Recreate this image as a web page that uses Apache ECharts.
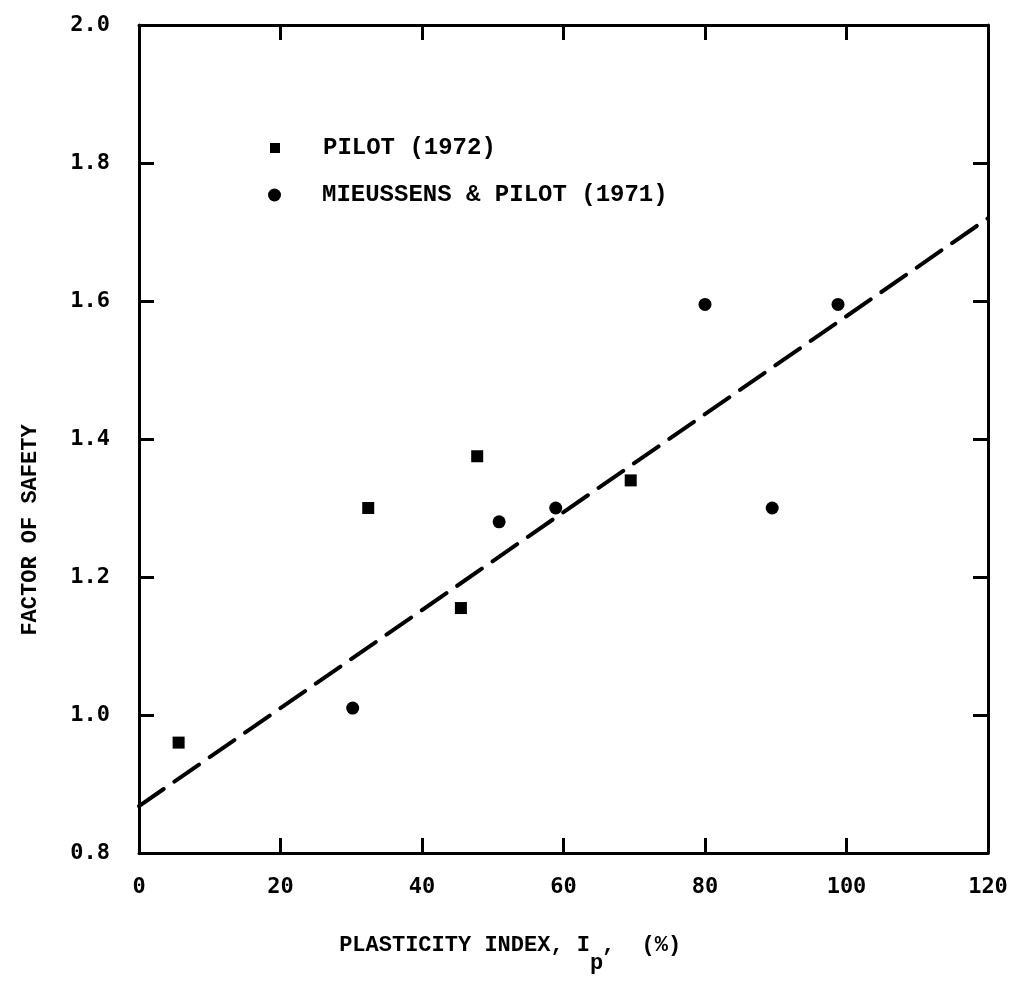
<!DOCTYPE html>
<html><head><meta charset="utf-8">
<script src="https://cdn.jsdelivr.net/npm/echarts@6/dist/echarts.min.js"></script>
<style>html,body{margin:0;padding:0;background:#fff}#c{width:1013px;height:994px}</style>
</head><body><div id="c"></div>
<script>
// PILOT (1972) - squares
const pilotX = [5.6, 32.4, 45.5, 47.8, 69.5];
const pilotY = [0.96, 1.30, 1.155, 1.375, 1.34];
// MIEUSSENS & PILOT (1971) - circles
const mpX = [30.2, 50.9, 58.9, 80.0, 89.5, 98.8];
const mpY = [1.01, 1.28, 1.30, 1.595, 1.30, 1.595];
// fitted dashed line
const fitX = [0, 120];
const fitY = [0.868, 1.72];
// axes
const xMin = 0, xMax = 120, xStep = 20;
const yMin = 0.8, yMax = 2.0, yStep = 0.2;
const seriesNames = ['PILOT (1972)', 'MIEUSSENS & PILOT (1971)'];
const xTitle = ['PLASTICITY INDEX, I', 'p', ',  (%)'];
const yTitle = 'FACTOR OF SAFETY';

const zip = (a, b) => a.map((v, i) => [v, b[i]]);
const labelFont = 'DejaVu Sans Mono';
const typeFont = 'Liberation Mono';

const axisCommon = {
  axisLine: { show: true, onZero: false, lineStyle: { color: '#000', width: 3 } },
  axisTick: { show: true, inside: true, length: 15, lineStyle: { color: '#000', width: 3 } },
  splitLine: { show: false }
};
const titleFont = 'bold 22px "Liberation Mono"';

const chart = echarts.init(document.getElementById('c'), null, { renderer: 'canvas' });
chart.setOption({
  backgroundColor: '#fff',
  animation: false,
  grid: { left: 139, right: 25, top: 25, bottom: 141 },
  xAxis: [
    Object.assign({ type: 'value', position: 'bottom', min: xMin, max: xMax, interval: xStep,
      axisLabel: { margin: 23, color: '#000', fontFamily: labelFont, fontSize: 22, fontWeight: 'bold' } }, axisCommon),
    Object.assign({ type: 'value', position: 'top', min: xMin, max: xMax, interval: xStep,
      axisLabel: { show: false } }, axisCommon)
  ],
  yAxis: [
    Object.assign({ type: 'value', position: 'left', min: yMin, max: yMax, interval: yStep,
      axisLabel: { margin: 29, color: '#000', fontFamily: labelFont, fontSize: 22, fontWeight: 'bold',
        formatter: v => v.toFixed(1) } }, axisCommon),
    Object.assign({ type: 'value', position: 'right', min: yMin, max: yMax, interval: yStep,
      axisLabel: { show: false } }, axisCommon)
  ],
  legend: [
    { data: [seriesNames[0]], left: 265, top: 131, itemWidth: 10, itemHeight: 10,
      textStyle: { color: '#000', fontFamily: typeFont, fontSize: 24, fontWeight: 'bold', padding: [0, 0, 0, 38] } },
    { data: [seriesNames[1]], left: 263, top: 178, itemWidth: 13, itemHeight: 13,
      textStyle: { color: '#000', fontFamily: typeFont, fontSize: 24, fontWeight: 'bold', padding: [0, 0, 0, 36] } }
  ],
  series: [
    { name: 'fit', type: 'line', data: zip(fitX, fitY), symbol: 'none', silent: true,
      lineStyle: { color: '#000', width: 4, type: [30, 13], cap: 'round' } },
    { name: seriesNames[0], type: 'scatter', data: zip(pilotX, pilotY), symbol: 'rect', symbolSize: 12,
      itemStyle: { color: '#000', opacity: 1 } },
    { name: seriesNames[1], type: 'scatter', data: zip(mpX, mpY), symbol: 'circle', symbolSize: 13,
      itemStyle: { color: '#000', opacity: 1 } }
  ],
  graphic: [
    { type: 'text', x: 30, y: 530, rotation: Math.PI / 2,
      style: { text: yTitle, fill: '#000', font: titleFont, align: 'center', verticalAlign: 'middle' } },
    { type: 'text', x: 590, y: 945,
      style: { text: xTitle[0], fill: '#000', font: titleFont, align: 'right', verticalAlign: 'middle' } },
    { type: 'text', x: 590, y: 963,
      style: { text: xTitle[1], fill: '#000', font: titleFont, align: 'left', verticalAlign: 'middle' } },
    { type: 'text', x: 602, y: 945,
      style: { text: xTitle[2], fill: '#000', font: titleFont, align: 'left', verticalAlign: 'middle' } }
  ]
});
</script></body></html>
